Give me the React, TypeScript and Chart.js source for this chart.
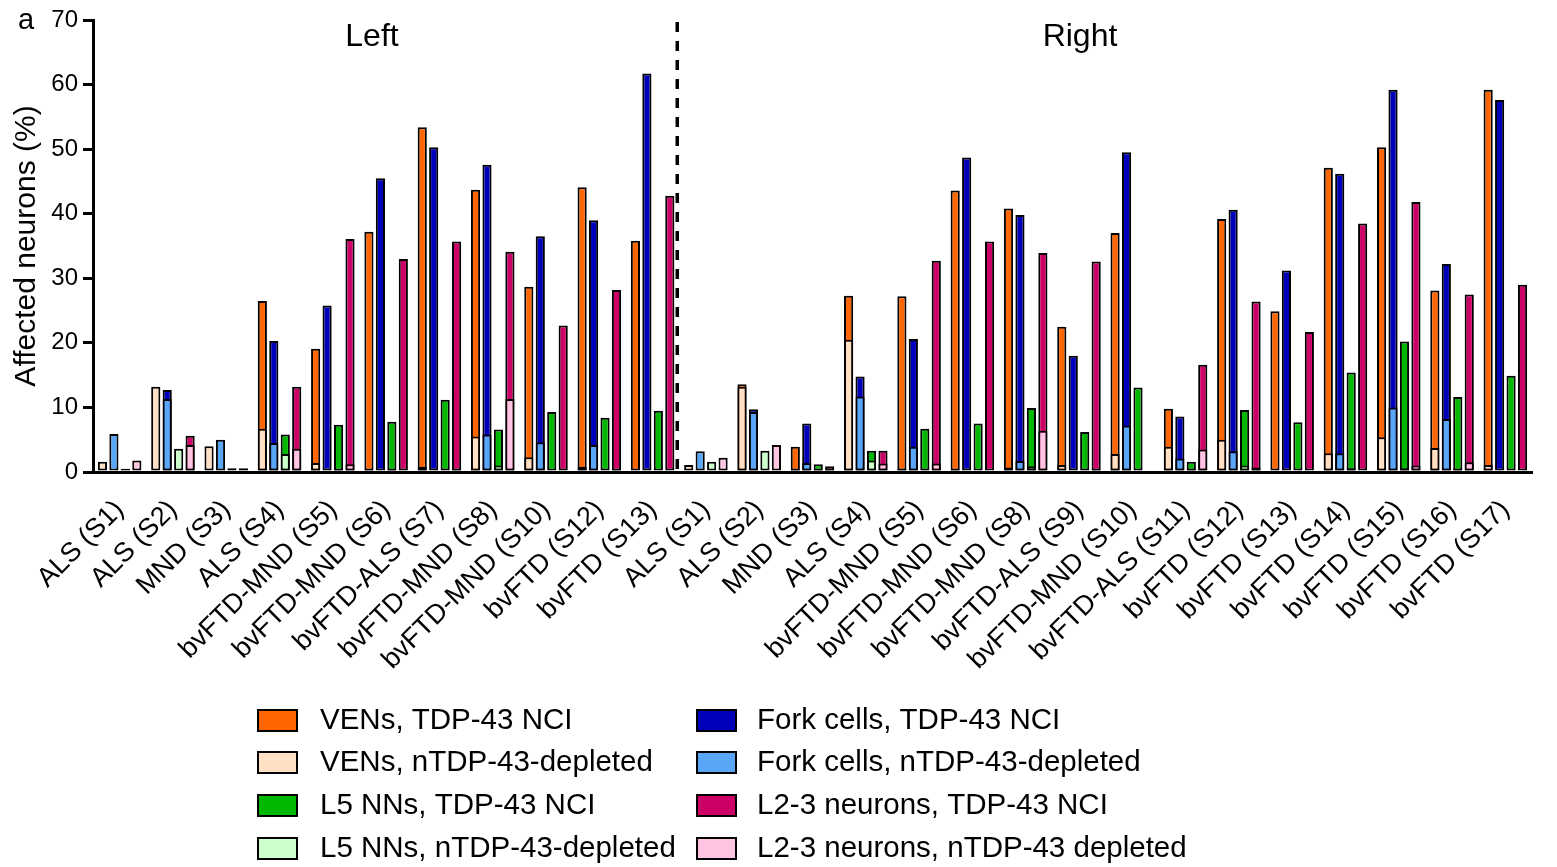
import React, { useEffect, useRef } from "react";
import { Chart, registerables } from "chart.js";

Chart.register(...registerables);

const FONT = "'Liberation Sans', Arial, Helvetica, sans-serif";

const categories = [
  "ALS (S1)", "ALS (S2)", "MND (S3)", "ALS (S4)", "bvFTD-MND (S5)", "bvFTD-MND (S6)",
  "bvFTD-ALS (S7)", "bvFTD-MND (S8)", "bvFTD-MND (S10)", "bvFTD (S12)", "bvFTD (S13)",
  "ALS (S1)", "ALS (S2)", "MND (S3)", "ALS (S4)", "bvFTD-MND (S5)", "bvFTD-MND (S6)",
  "bvFTD-MND (S8)", "bvFTD-ALS (S9)", "bvFTD-MND (S10)", "bvFTD-ALS (S11)", "bvFTD (S12)",
  "bvFTD (S13)", "bvFTD (S14)", "bvFTD (S15)", "bvFTD (S16)", "bvFTD (S17)",
];

const sideTitles = ["Left", "Right"];
const leftCount = 11;

const venNci = [0, 0, 0, 26.5, 19.1, 37.2, 53.4, 43.7, 28.7, 44.1, 35.8,
  0, 13.6, 3.9, 27.3, 27.2, 43.6, 40.8, 22.5, 37.0, 9.8, 39.2, 24.9, 47.1, 50.3, 28.1, 59.2];
const venDep = [1.6, 13.2, 4.0, 6.7, 1.4, 0.3, 0.8, 5.5, 2.3, 0.8, 0,
  1.1, 13.2, 0.3, 20.5, 0.5, 0.4, 0.7, 1.1, 2.8, 3.9, 5.0, 0, 2.9, 5.4, 3.7, 1.1];
const forkNci = [0, 12.7, 0, 20.3, 25.8, 45.5, 50.3, 47.6, 36.5, 39.0, 61.7,
  0, 9.7, 7.5, 14.8, 20.6, 48.7, 39.8, 18.0, 49.5, 8.6, 40.6, 31.2, 46.2, 59.2, 32.2, 57.6];
const forkDep = [5.9, 11.3, 5.0, 4.5, 0, 0, 0, 5.8, 4.6, 4.2, 0,
  3.2, 9.3, 1.4, 11.7, 3.9, 0, 1.7, 0, 7.2, 2.1, 3.2, 0, 2.9, 10.0, 8.2, 0];
const l5Nci = [0, 0, 0, 5.8, 7.3, 7.8, 11.2, 6.6, 9.3, 8.4, 9.5,
  0, 0, 1.2, 3.3, 6.7, 7.5, 9.9, 6.2, 13.1, 1.6, 9.6, 7.7, 15.4, 20.2, 11.6, 14.9];
const l5Dep = [0.5, 3.6, 0.6, 2.8, 0.4, 0.3, 0, 1.0, 0, 0, 0,
  1.6, 3.3, 0.4, 1.8, 0.2, 0, 0.9, 0, 0, 0.5, 1.0, 0, 0.6, 0.6, 0.5, 0];
const l23Nci = [0, 5.6, 0, 13.2, 36.1, 33.0, 35.7, 34.1, 22.7, 28.2, 42.8,
  0, 0, 0.9, 3.3, 32.7, 35.7, 33.9, 32.6, 0, 16.6, 26.4, 21.7, 38.5, 41.8, 27.5, 29.0];
const l23Dep = [1.8, 4.2, 0.6, 3.6, 1.2, 0, 0.5, 11.3, 0, 0.3, 0,
  2.2, 4.2, 0.4, 1.3, 1.3, 0, 6.4, 0.4, 0, 3.5, 0.7, 0, 0, 1.0, 1.5, 0];

const groups = [
  { stack: "ven", nci: venNci, dep: venDep, nciColor: "#FF6600", depColor: "#FFE0C4",
    nciLabel: "VENs, TDP-43 NCI", depLabel: "VENs, nTDP-43-depleted" },
  { stack: "fork", nci: forkNci, dep: forkDep, nciColor: "#0000BB", depColor: "#58A6F5",
    nciLabel: "Fork cells, TDP-43 NCI", depLabel: "Fork cells, nTDP-43-depleted" },
  { stack: "l5", nci: l5Nci, dep: l5Dep, nciColor: "#00B800", depColor: "#CCFFCC",
    nciLabel: "L5 NNs, TDP-43 NCI", depLabel: "L5 NNs, nTDP-43-depleted" },
  { stack: "l23", nci: l23Nci, dep: l23Dep, nciColor: "#CC0066", depColor: "#FFC4E2",
    nciLabel: "L2-3 neurons, TDP-43 NCI", depLabel: "L2-3 neurons, nTDP-43 depleted" },
];

export default function App() {
  const ref = useRef<HTMLCanvasElement>(null);

  useEffect(() => {
    const canvas = ref.current;
    if (!canvas) return;
    Chart.defaults.font.family = FONT;
    Chart.defaults.color = "#000";

    const datasets: any[] = [];
    groups.forEach((g) => {
      datasets.push({
        label: g.depLabel, data: g.dep, stack: g.stack, order: 0,
        backgroundColor: g.depColor, borderColor: "#000", borderWidth: 2, borderSkipped: false,
      });
      datasets.push({
        label: g.nciLabel, data: g.nci, stack: g.stack, order: 1,
        backgroundColor: g.nciColor, borderColor: "#000", borderWidth: 2, borderSkipped: false,
      });
    });

    const overlay = {
      id: "overlay",
      afterDraw(chart: any) {
        const { ctx, chartArea, scales } = chart;
        const xs = scales.x;
        ctx.save();
        // dashed separator
        const sepX = (xs.getPixelForValue(leftCount - 1) + xs.getPixelForValue(leftCount)) / 2 - 2;
        ctx.strokeStyle = "#000";
        ctx.lineWidth = 3.5;
        ctx.setLineDash([10, 9]);
        ctx.beginPath();
        ctx.moveTo(sepX, chartArea.top + 2);
        ctx.lineTo(sepX, chartArea.bottom);
        ctx.stroke();
        ctx.setLineDash([]);

        // section titles
        ctx.fillStyle = "#000";
        ctx.font = `32px ${FONT}`;
        ctx.textAlign = "center";
        ctx.textBaseline = "middle";
        ctx.fillText(sideTitles[0], 372, 37);
        ctx.fillText(sideTitles[1], 1080, 37);

        // panel letter
        ctx.font = `29px ${FONT}`;
        ctx.fillText("a", 26, 21);

        // legend (two columns)
        const cols = [
          { box: 258, text: 320, items: [0, 1, 4, 5] },
          { box: 697, text: 757, items: [2, 3, 6, 7] },
        ];
        const order = [1, 0, 3, 2, 5, 4, 7, 6];
        const rows = [720, 762, 805, 848];
        ctx.font = `29.5px ${FONT}`;
        ctx.textAlign = "left";
        cols.forEach((c) => {
          c.items.forEach((it, r) => {
            const ds = chart.data.datasets[order[it]];
            const y = rows[r];
            ctx.fillStyle = ds.backgroundColor;
            ctx.fillRect(c.box, y - 10, 39, 21);
            ctx.lineWidth = 2;
            ctx.strokeStyle = "#000";
            ctx.strokeRect(c.box, y - 10, 39, 21);
            ctx.fillStyle = "#000";
            ctx.fillText(ds.label, c.text, y + 1);
          });
        });
        ctx.restore();
      },
    };

    const chart = new Chart(canvas, {
      type: "bar",
      data: { labels: categories, datasets },
      options: {
        responsive: false,
        animation: false,
        layout: { padding: { top: 20, right: 25, left: 0, bottom: 0 } },
        datasets: { bar: { categoryPercentage: 0.86, barPercentage: 0.8 } },
        plugins: { legend: { display: false }, tooltip: { enabled: false } },
        scales: {
          x: {
            offset: true,
            grid: { display: false, drawTicks: false },
            border: { display: true, color: "#000", width: 3 },
            ticks: {
              color: "#000", font: { size: 27, family: FONT }, minRotation: 45, maxRotation: 45,
              autoSkip: false, padding: 22,
            },
            afterFit: (scale: any) => { scale.height = 867 - 472; },
          },
          y: {
            min: 0, max: 70, stacked: false,
            ticks: { stepSize: 10, color: "#000", font: { size: 24, family: FONT }, padding: 5 },
            grid: { display: true, drawOnChartArea: false, drawTicks: true, tickLength: 10, color: "#000", lineWidth: 3 },
            border: { display: true, color: "#000", width: 3 },
            title: {
              display: true, text: "Affected neurons (%)", color: "#000",
              font: { size: 30, family: FONT }, padding: { top: 9, bottom: 0 },
            },
            afterFit: (scale: any) => { scale.width = 93; },
          },
        },
      } as any,
      plugins: [overlay],
    });
    return () => chart.destroy();
  }, []);

  return (
    <div style={{ position: "fixed", left: 0, top: 0, width: 1557, height: 867, background: "#fff" }}>
      <canvas ref={ref} width={1557} height={867} style={{ display: "block", width: 1557, height: 867 }} />
    </div>
  );
}
